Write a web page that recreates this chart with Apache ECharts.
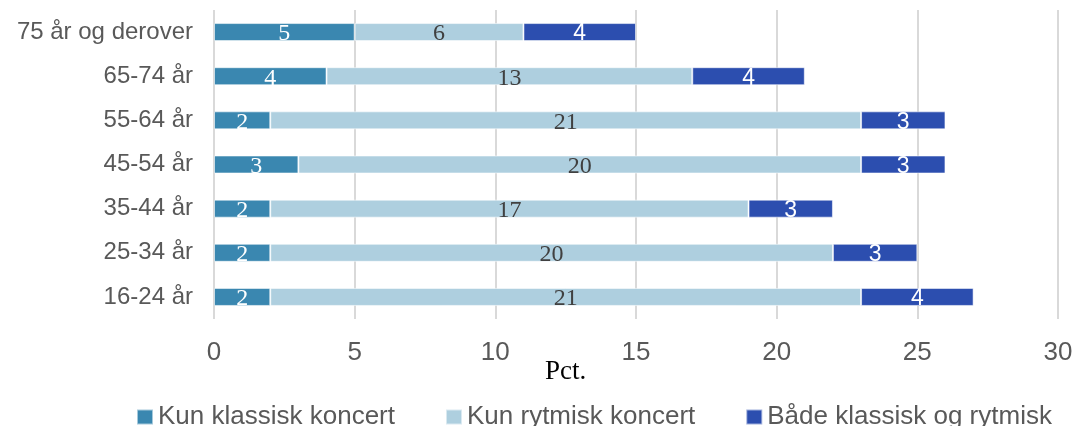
<!DOCTYPE html>
<html>
<head>
<meta charset="utf-8">
<script src="https://cdn.jsdelivr.net/npm/echarts@6/dist/echarts.min.js"></script>
<style>
  html, body { margin: 0; padding: 0; background: #ffffff; }
  #chart { width: 1076px; height: 426px; }
</style>
</head>
<body>
<div id="chart"></div>
<script>
// Age groups, listed from the bottom of the chart upwards
const categories = ['16-24 år', '25-34 år', '35-44 år', '45-54 år', '55-64 år', '65-74 år', '75 år og derover'];
const seriesNames = ['Kun klassisk koncert', 'Kun rytmisk koncert', 'Både klassisk og rytmisk'];
// Share of each age group (pct.)
const kunKlassisk = [2, 2, 2, 3, 2, 4, 5];
const kunRytmisk = [21, 20, 17, 20, 21, 13, 6];
const begge = [4, 3, 3, 3, 3, 4, 4];
const xTicks = { min: 0, max: 30, interval: 5 };
const axisTitle = 'Pct.';

const colors = ['#3A87B0', '#AECFDF', '#2C4EAF'];
const serif = '"Liberation Serif", "DejaVu Serif", serif';
const sans = '"Liberation Sans", Arial, sans-serif';

function barSeries(name, data, color, label) {
  return {
    name: name,
    type: 'bar',
    stack: 'total',
    data: data,
    barWidth: 18,
    itemStyle: { color: color, borderColor: 'rgba(255,255,255,0.55)', borderWidth: 1 },
    label: Object.assign({ show: true, position: 'inside', offset: [0, 2] }, label),
    emphasis: { disabled: true }
  };
}

const chart = echarts.init(document.getElementById('chart'), null, { renderer: 'canvas' });
chart.setOption({
  animation: false,
  color: colors,
  grid: { left: 214, right: 18, top: 10, bottom: 107, containLabel: false },
  xAxis: {
    type: 'value',
    min: xTicks.min,
    max: xTicks.max,
    interval: xTicks.interval,
    axisLine: { show: false },
    axisTick: { show: false },
    splitLine: { show: true, lineStyle: { color: '#D9D9D9', width: 2 } },
    axisLabel: { color: '#595959', fontFamily: sans, fontSize: 26, margin: 21 }
  },
  yAxis: {
    type: 'category',
    data: categories,
    axisLine: { show: false },
    axisTick: { show: false },
    axisLabel: { color: '#595959', fontFamily: sans, fontSize: 24, margin: 21 }
  },
  legend: {
    data: seriesNames,
    left: 131,
    top: 399,
    itemWidth: 16,
    itemHeight: 15,
    itemGap: 50,
    icon: 'rect',
    textStyle: { color: '#595959', fontFamily: sans, fontSize: 26 }
  },
  graphic: [{
    type: 'text',
    left: 545,
    top: 358,
    style: { text: axisTitle, fill: '#000000', font: '27px ' + serif }
  }],
  series: [
    barSeries(seriesNames[0], kunKlassisk, colors[0], { color: '#ffffff', fontFamily: serif, fontSize: 24 }),
    barSeries(seriesNames[1], kunRytmisk, colors[1], { color: '#404040', fontFamily: serif, fontSize: 24 }),
    barSeries(seriesNames[2], begge, colors[2], { color: '#ffffff', fontFamily: sans, fontSize: 23 })
  ]
});
</script>
</body>
</html>
